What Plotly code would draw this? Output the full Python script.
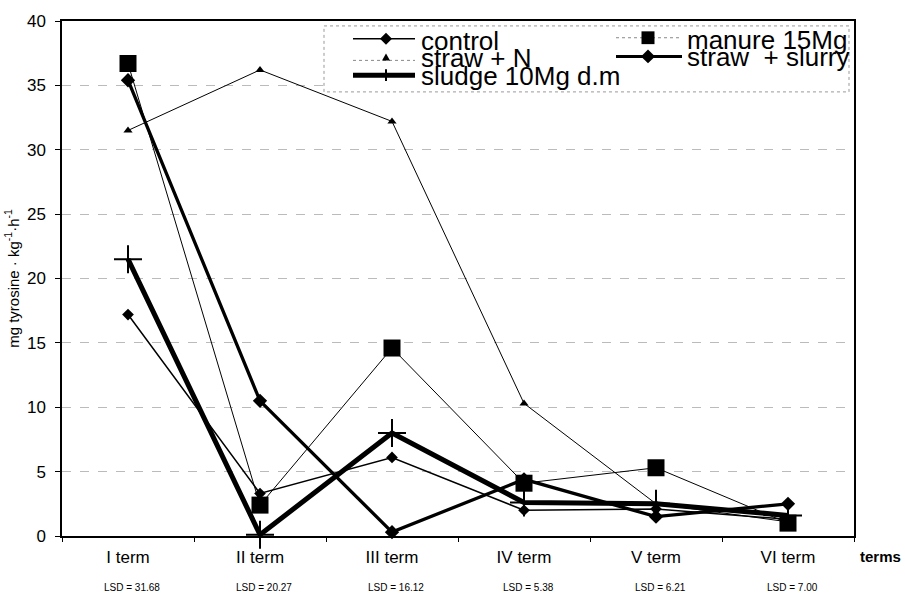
import plotly.graph_objects as go

# ---- data ----
terms = ["I term", "II term", "III term", "IV term", "V term", "VI term"]
lsd = [31.68, 20.27, 16.12, 5.38, 6.21, 7.00]
control = [17.2, 3.3, 6.1, 2.0, 2.1, 1.3]
manure = [36.7, 2.4, 14.6, 4.1, 5.3, 1.0]
straw_n = [31.5, 36.2, 32.2, 10.3, 2.5, 1.1]
straw_slurry = [35.4, 10.5, 0.3, 4.4, 1.5, 2.5]
sludge = [21.5, 0.1, 8.0, 2.6, 2.5, 1.6]

FONT = "Liberation Sans, Arial, sans-serif"
W, H = 905, 600
L, R, T, B = 62, 854, 13, 536  # plot area in pixels

def px(x):
    return (x - L) / (R - L)

def py(y):
    return (B - y) / (B - T)

fig = go.Figure()

fig.add_trace(go.Scatter(x=terms, y=straw_n, mode="lines+markers", name="straw + N",
                         line=dict(color="black", width=1), cliponaxis=False,
                         marker=dict(symbol="triangle-up", size=8, color="black")))
fig.add_trace(go.Scatter(x=terms, y=manure, mode="lines+markers", name="manure 15Mg",
                         line=dict(color="black", width=1), cliponaxis=False,
                         marker=dict(symbol="square", size=17, color="black")))
fig.add_trace(go.Scatter(x=terms, y=control, mode="lines+markers", name="control",
                         line=dict(color="black", width=1.5), cliponaxis=False,
                         marker=dict(symbol="diamond", size=9, color="black")))
fig.add_trace(go.Scatter(x=terms, y=straw_slurry, mode="lines+markers", name="straw + slurry",
                         line=dict(color="black", width=3.3), cliponaxis=False,
                         marker=dict(symbol="diamond", size=11, color="black")))
fig.add_trace(go.Scatter(x=terms, y=sludge, mode="lines+markers", name="sludge 10Mg d.m",
                         line=dict(color="black", width=5), cliponaxis=False,
                         marker=dict(symbol="cross-thin", size=20, color="black",
                                     line=dict(color="black", width=2))))

shapes = []
annotations = []

# ---- manual legend ----
shapes.append(dict(type="rect", xref="paper", yref="paper",
                   x0=px(324), x1=px(849), y0=py(18), y1=py(85),
                   line=dict(color="#999", width=1, dash="dot"), fillcolor="white", layer="above"))

def leg_line(x0, x1, y, width, color="black", dash="solid"):
    shapes.append(dict(type="line", xref="paper", yref="paper",
                       x0=px(x0), x1=px(x1), y0=py(y), y1=py(y),
                       line=dict(color=color, width=width, dash=dash), layer="above"))

def leg_diamond(cx, cy, r):
    path = "M {} {} L {} {} L {} {} L {} {} Z".format(
        px(cx - r), py(cy), px(cx), py(cy - r), px(cx + r), py(cy), px(cx), py(cy + r))
    shapes.append(dict(type="path", xref="paper", yref="paper", path=path,
                       fillcolor="black", line=dict(color="black", width=0), layer="above"))

def leg_triangle(cx, cy, r):
    path = "M {} {} L {} {} L {} {} Z".format(
        px(cx - r), py(cy + r * 0.8), px(cx), py(cy - r), px(cx + r), py(cy + r * 0.8))
    shapes.append(dict(type="path", xref="paper", yref="paper", path=path,
                       fillcolor="black", line=dict(color="black", width=0), layer="above"))

def leg_square(cx, cy, r):
    shapes.append(dict(type="rect", xref="paper", yref="paper",
                       x0=px(cx - r), x1=px(cx + r), y0=py(cy + r), y1=py(cy - r),
                       fillcolor="black", line=dict(color="black", width=0), layer="above"))

def leg_cross(cx, cy, r):
    shapes.append(dict(type="line", xref="paper", yref="paper",
                       x0=px(cx), x1=px(cx), y0=py(cy - r), y1=py(cy + r),
                       line=dict(color="black", width=2), layer="above"))

def leg_text(x, y, s):
    annotations.append(dict(text=s, xref="paper", yref="paper", x=px(x), y=py(y),
                            xanchor="left", yanchor="middle", showarrow=False,
                            font=dict(family=FONT, size=26, color="black")))

leg_line(353, 415, 31, 1.5)
leg_diamond(386, 31, 6)
leg_text(419, 33, "control")

leg_line(353, 415, 53, 1, color="#888", dash="dot")
leg_triangle(386, 50, 4)
leg_text(419, 51, "straw + N")

leg_line(353, 415, 68, 5)
leg_cross(386, 68, 6)
leg_text(419, 69, "sludge 10Mg d.m")

leg_line(616, 682, 30, 1, color="#888", dash="dot")
leg_square(648, 30, 6.5)
leg_text(685, 32, "manure 15Mg")

leg_line(616, 682, 49, 3)
leg_diamond(648, 49, 7)
leg_text(685, 50, "straw  + slurry")

# ---- LSD labels & axis name ----
for t, v in zip(terms, lsd):
    annotations.append(dict(text="LSD = {:.2f}".format(v), x=t, xref="x", yref="paper",
                            y=py(588), xanchor="center", yanchor="middle", xshift=4,
                            showarrow=False, font=dict(family=FONT, size=10, color="black")))
annotations.append(dict(text="<b>terms</b>", xref="paper", yref="paper", x=px(880), y=py(557),
                        xanchor="center", yanchor="middle", showarrow=False,
                        font=dict(family=FONT, size=15, color="black")))

fig.update_layout(
    width=W, height=H,
    margin=dict(l=L, r=W - R, t=T, b=H - B, pad=0),
    paper_bgcolor="white", plot_bgcolor="white",
    showlegend=False,
    font=dict(family=FONT, color="black"),
    shapes=shapes, annotations=annotations,
)
fig.update_xaxes(type="category", showline=True, linecolor="black", linewidth=1.5, mirror=True,
                 showgrid=False, ticks="outside", tickson="boundaries", ticklen=4,
                 tickcolor="black", tickfont=dict(family=FONT, size=17, color="black"),
                 ticklabelstandoff=5, range=[-0.5, 5.5])
fig.update_yaxes(range=[0, 40], dtick=5, showline=True, linecolor="black", linewidth=1.5,
                 mirror=True, showgrid=True, gridcolor="#bbbbbb", griddash="dash", gridwidth=1,
                 ticks="outside", ticklen=5, tickcolor="black", zeroline=False,
                 ticklabelstandoff=6,
                 tickfont=dict(family=FONT, size=17, color="black"),
                 title=dict(text="mg tyrosine · kg<sup>-1</sup>·h<sup>-1</sup>",
                            font=dict(family=FONT, size=15, color="black"), standoff=4))

fig.write_html("out.html")
